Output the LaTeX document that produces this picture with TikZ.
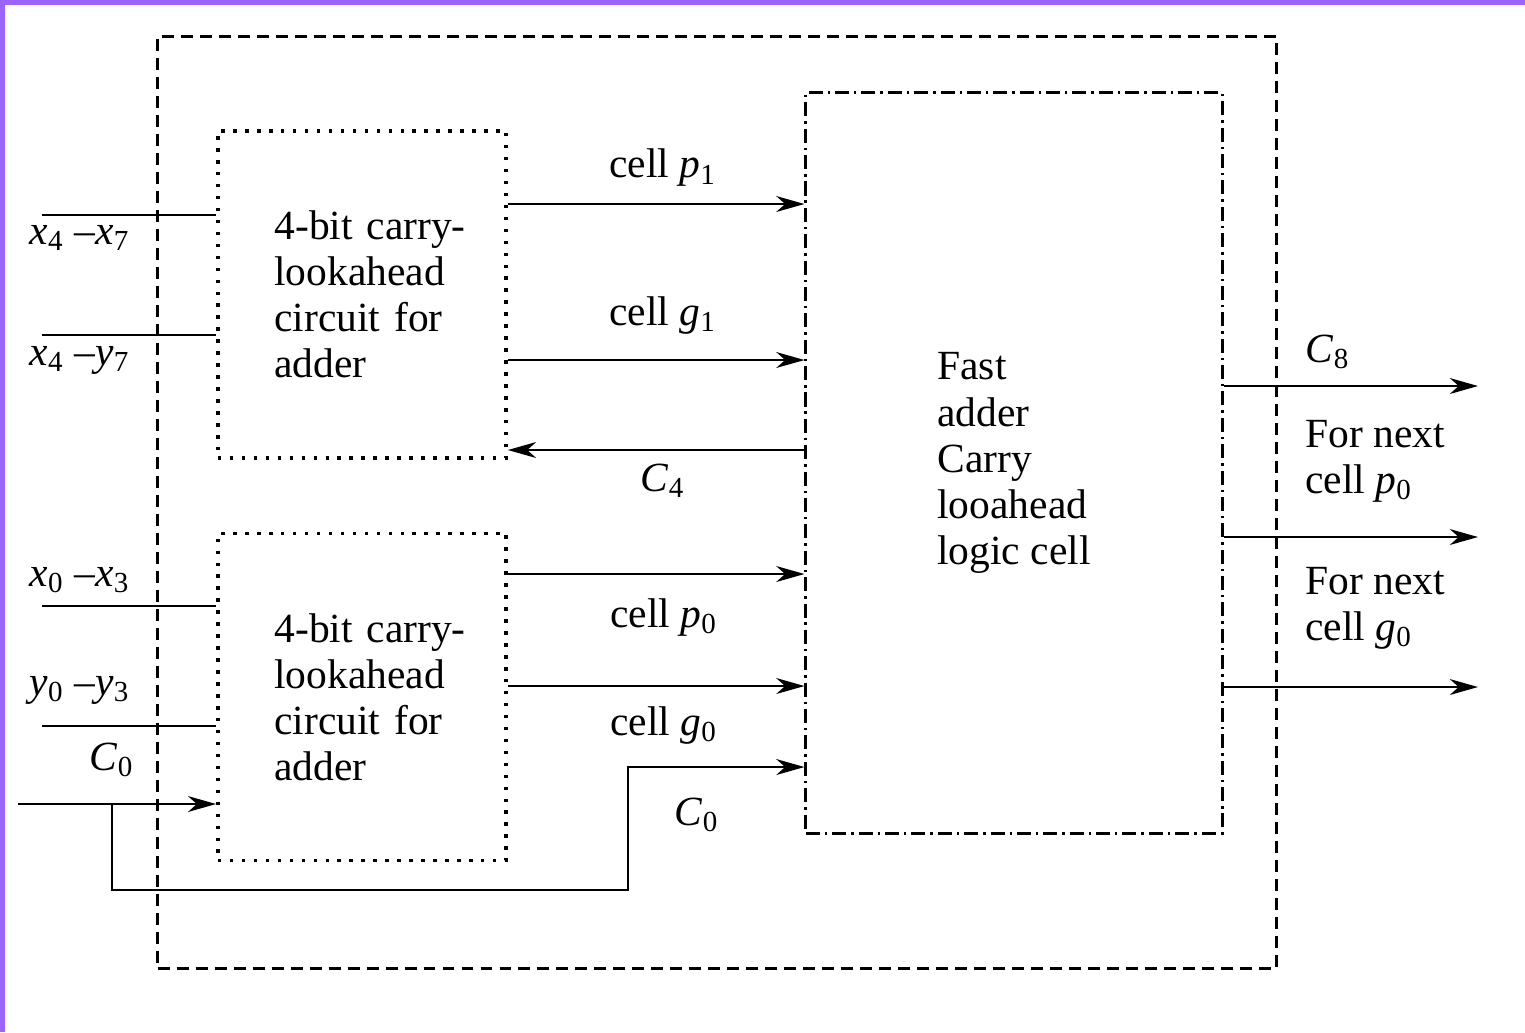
\documentclass[tikz,border=0pt]{standalone}
\usepackage{fontspec}
\setmainfont{Liberation Serif}
\usetikzlibrary{arrows.meta, positioning, calc}
\definecolor{FramePurple}{RGB}{155,100,255}
\newcommand{\sig}[2]{\textit{#1}\textsubscript{#2}}

\begin{document}
\begin{tikzpicture}[
    x=0.01cm, y=-0.01cm,
    font=\fontsize{11.8}{13.1}\selectfont,
    wire/.style={line width=0.8pt, black},
    flow/.style={wire, -{Stealth[length=8pt, width=4.5pt, inset=2.5pt]}},
    outerbox/.style={draw, line width=0.8pt, dash pattern=on 3.4pt off 2pt,
        minimum width=11.18cm, minimum height=9.31cm, inner sep=0pt},
    lookahead/.style={draw, line width=1pt, dash pattern=on 1pt off 2.4pt,
        minimum width=2.88cm, minimum height=3.27cm, text width=1.75cm,
        align=left, inner sep=0pt},
    fastcell/.style={draw, line width=0.8pt,
        dash pattern=on 4pt off 1.4pt on 0.7pt off 1.4pt,
        minimum width=4.16cm, minimum height=7.40cm, align=left, inner sep=0pt},
    sidetext/.style={anchor=west, align=left},
]

% frame and page size
\useasboundingbox (0,0) rectangle (1525,1032);
\fill[FramePurple] (0,0) rectangle (1525,5);
\fill[FramePurple] (0,0) rectangle (5,1032);

% blocks
\node[outerbox] (outer) at (717,502.5) {};
\node[lookahead] (ulo) at (362,294.5)
    {\mbox{4-bit carry-}\\lookahead\\circuit for\\adder};
\node[lookahead] (llo) at (362,697)
    {\mbox{4-bit carry-}\\lookahead\\circuit for\\adder};
\node[fastcell] (fcell) at (1014,463)
    {Fast\\adder\\Carry\\looahead\\logic cell};

% inputs
\coordinate (inx47) at (42,215);
\coordinate (iny47) at (42,335);
\coordinate (inx03) at (42,606);
\coordinate (iny03) at (42,726);
\coordinate (inc0) at (18,804);
\draw[wire] (inx47) -- (ulo.west |- inx47);
\draw[wire] (iny47) -- (ulo.west |- iny47);
\draw[wire] (inx03) -- (llo.west |- inx03);
\draw[wire] (iny03) -- (llo.west |- iny03);
\draw[flow] (inc0) -- (llo.west |- inc0);

\node (lx47) at (80,238) {\sig{x}{4} --\sig{x}{7}};
\node (ly47) at (80,360) {\sig{x}{4} --\sig{y}{7}};
\node (lx03) at (80,580) {\sig{x}{0} --\sig{x}{3}};
\node (ly03) at (80,690) {\sig{y}{0} --\sig{y}{3}};
\node (lc0in) at (112,760) {\sig{C}{0}};

% carry-in bypass
\coordinate (c0tap) at (112,804);
\coordinate (c0low) at (112,890);
\coordinate (c0rise) at (628,767);
\draw[flow] (c0tap) -- (c0low) -| (c0rise) -- (fcell.west |- c0rise);
\node (lc0) at (697,815) {\sig{C}{0}};

% block to cell
\foreach \yy in {204, 360} \draw[flow] (ulo.east |- 0,\yy) -- (fcell.west |- 0,\yy);
\foreach \yy in {574, 686} \draw[flow] (llo.east |- 0,\yy) -- (fcell.west |- 0,\yy);
\draw[flow] (fcell.west |- 0,450) -- (ulo.east |- 0,450);

\node (lp1) at (663,168) {cell \sig{p}{1}};
\node (lg1) at (663,315) {cell \sig{g}{1}};
\node (lc4) at (663,481) {\sig{C}{4}};
\node (lp0) at (664,617) {cell \sig{p}{0}};
\node (lg0) at (664,725) {cell \sig{g}{0}};

% outputs
\coordinate (outc8) at (1478,386);
\coordinate (outp0) at (1478,537);
\coordinate (outg0) at (1478,687);
\foreach \o in {outc8, outp0, outg0} \draw[flow] (fcell.east |- \o) -- (\o);

\node (lc8) at (1328,352) {\sig{C}{8}};
\node[sidetext] (lnp0) at (1293,461) {For next\\cell \sig{p}{0}};
\node[sidetext] (lng0) at (1293,608) {For next\\cell \sig{g}{0}};

\end{tikzpicture}
\end{document}
